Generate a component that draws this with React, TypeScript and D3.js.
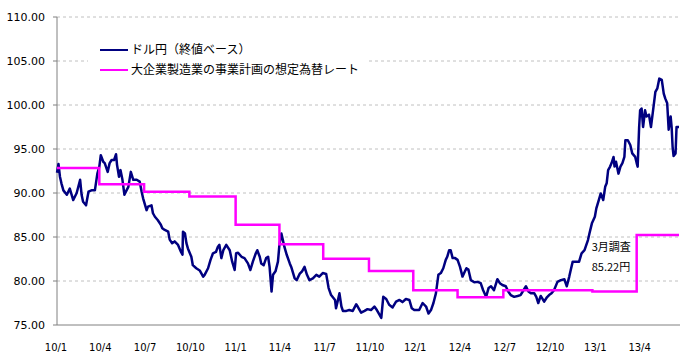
import React from 'react';
import * as d3 from 'd3';

// all x positions are days since 2010-01-01
const START = new Date(2010, 0, 1);
const END_DAY = 1264;

const usdJpyDays = [
  0, 3, 6, 9, 13, 20, 26, 33, 40, 47, 50, 53, 59, 64, 70, 77, 82, 86, 89, 94,
  97, 103, 107, 111, 116, 120, 122, 126, 129, 133, 137, 140, 145, 150, 155, 162, 168, 172, 175, 182,
  185, 192, 195, 199, 205, 211, 214, 219, 226, 229, 234, 239, 246, 252, 255, 256, 260, 263, 266, 273,
  276, 283, 290, 297, 300, 307, 312, 317, 323, 327, 330, 334, 338, 344, 351, 356, 361, 364, 368, 375,
  381, 388, 393, 398, 404, 407, 412, 415, 420, 425, 429, 432, 436, 439, 444, 449, 452, 456, 459, 462,
  467, 473, 476, 483, 487, 493, 498, 503, 508, 513, 520, 527, 533, 540, 547, 552, 557, 565, 567, 571,
  574, 578, 581, 588, 594, 601, 608, 611, 618, 625, 631, 638, 645, 650, 655, 659, 663, 669, 675, 682,
  689, 696, 702, 709, 716, 721, 726, 736, 743, 750, 755, 760, 765, 770, 775, 780, 785, 790, 793, 797,
  800, 804, 809, 814, 819, 824, 829, 832, 836, 841, 848, 855, 861, 866, 872, 877, 882, 888, 895, 900,
  905, 912, 917, 922, 929, 936, 942, 948, 953, 958, 963, 970, 974, 978, 983, 990, 995, 1000, 1005, 1010,
  1017, 1024, 1031, 1036, 1041, 1044, 1048, 1055, 1061, 1066, 1072, 1079, 1082, 1087, 1093, 1096, 1101, 1105, 1110, 1114,
  1117, 1120, 1124, 1127, 1131, 1133, 1136, 1141, 1145, 1149, 1153, 1155, 1160, 1165, 1169, 1175, 1178, 1180, 1183, 1185,
  1188, 1191, 1195, 1198, 1203, 1207, 1211, 1216, 1220, 1224, 1229, 1233, 1236, 1240, 1243, 1247, 1249, 1251, 1253, 1257,
  1259, 1264,
];

const usdJpyClose = [
  92.3, 93.3, 91.85, 91.1, 90.3, 89.8, 90.5, 89.2, 90.0, 91.5, 89.8, 89.0, 88.6, 90.15, 90.3, 90.3, 92.2, 93.0, 94.3, 93.55,
  93.4, 92.4, 93.4, 93.75, 93.75, 94.4, 93.2, 91.85, 92.6, 91.5, 89.8, 90.15, 90.7, 92.4, 91.5, 91.5, 91.3, 90.15, 89.4, 88.05,
  88.45, 88.6, 87.7, 87.3, 86.9, 86.4, 86.0, 85.8, 85.6, 84.7, 84.3, 84.5, 84.1, 83.3, 83.0, 85.6, 85.4, 84.3, 83.7, 82.75,
  81.8, 81.45, 81.2, 80.5, 80.7, 81.45, 82.4, 83.15, 83.3, 83.9, 84.1, 82.6, 83.5, 84.1, 83.5, 82.2, 81.25, 83.15, 83.2, 82.75,
  82.6, 82.0, 81.25, 82.2, 83.15, 83.5, 82.75, 82.0, 81.8, 82.6, 82.75, 81.6, 78.8, 80.7, 81.1, 82.2, 84.1, 85.4, 84.65, 83.9,
  82.95, 82.0, 81.6, 80.3, 80.1, 80.8, 81.1, 81.6, 80.7, 80.1, 80.3, 80.7, 80.5, 80.9, 80.8, 79.2, 78.4, 77.85, 76.9, 77.85,
  78.6, 77.1, 76.6, 76.6, 76.7, 76.6, 77.35, 77.1, 76.4, 76.6, 76.8, 76.7, 77.1, 76.7, 76.2, 75.8, 78.2, 77.95, 77.3, 77.0,
  77.65, 77.85, 77.6, 77.95, 77.85, 76.9, 76.7, 76.7, 77.5, 77.1, 76.3, 76.7, 77.5, 78.6, 80.7, 80.9, 81.45, 82.4, 82.75, 83.5,
  83.5, 82.6, 82.6, 82.4, 81.6, 80.5, 81.1, 81.45, 81.3, 80.1, 79.85, 79.9, 79.75, 78.95, 78.2, 79.2, 79.4, 78.95, 80.2, 79.75,
  79.55, 79.4, 78.8, 78.4, 78.2, 78.3, 78.4, 78.95, 79.4, 78.8, 78.6, 78.6, 78.2, 77.5, 78.3, 77.65, 78.1, 78.4, 78.6, 78.95,
  79.9, 80.1, 80.2, 79.4, 80.5, 81.25, 82.2, 82.2, 82.2, 83.15, 83.5, 84.65, 85.4, 86.55, 87.3, 88.25, 89.2, 89.95, 89.2, 90.7,
  91.1, 92.6, 93.0, 93.4, 94.1, 93.0, 93.55, 92.2, 93.0, 93.4, 94.1, 96.0, 96.0, 95.45, 94.5, 94.1, 93.4, 93.0, 97.5, 99.4,
  99.6, 97.5, 99.4, 98.7, 98.9, 97.5, 99.25, 101.5, 101.9, 103.0, 102.85, 101.3, 100.75, 100.2, 97.2, 98.7, 97.5, 95.25, 94.2, 94.5,
  97.5, 97.5,
];

// Tankan: large manufacturers' assumed exchange rate, by survey
const surveyDays = [0, 86, 177, 269, 363, 452, 541, 634, 724, 814, 907, 998, 1088, 1178];
const surveyRate = [92.84, 91.0, 90.15, 89.6, 86.4, 84.17, 82.53, 81.14, 78.94, 78.15, 78.95, 78.95, 78.8, 85.22];

const yTicks = [75, 80, 85, 90, 95, 100, 105, 110];
const quarterLabels = ['10/1', '10/4', '10/7', '10/10', '11/1', '11/4', '11/7', '11/10', '12/1', '12/4', '12/7', '12/10', '13/1', '13/4'];

const legendNames = ['ドル円（終値ベース）', '大企業製造業の事業計画の想定為替レート'];
const noteLines = ['3月調査', '85.22円'];

const W = 690;
const H = 363;
const left = 57;
const right = 679;
const top = 17;
const bottom = 325;

const NAVY = '#000080';
const MAGENTA = '#ff00ff';
const jp = '"Noto Sans CJK JP", "Noto Sans", sans-serif';
const num = '"DejaVu Sans", Verdana, sans-serif';

const day = (d: number) => d3.timeDay.offset(START, d);

export default function App() {
  const x = d3.scaleTime().domain([START, day(END_DAY)]).range([left, right]);
  const y = d3.scaleLinear().domain([75, 110]).range([bottom, top]);

  const usd = usdJpyDays.map((d, i) => [day(d), usdJpyClose[i]] as [Date, number]);
  const survey = surveyDays.map((d, i) => [day(d), surveyRate[i]] as [Date, number]);
  survey.push([day(END_DAY), surveyRate[surveyRate.length - 1]]);

  const line = d3.line<[Date, number]>().x(d => x(d[0])).y(d => y(d[1]));
  const stepLine = d3.line<[Date, number]>().x(d => x(d[0])).y(d => y(d[1])).curve(d3.curveStepAfter);

  const quarters = d3.timeMonth.every(3)!.range(START, new Date(2013, 4, 1));

  const lastSurveyX = x(day(surveyDays[surveyDays.length - 1]));
  const lastSurveyY = y(surveyRate[surveyRate.length - 1]);

  return (
    <svg width={W} height={H} style={{ position: 'absolute', left: 0, top: 0, background: '#fff' }}>
      {/* grid */}
      {yTicks.filter(t => t > 75).map(t => (
        <line key={t} x1={left} x2={right} y1={y(t)} y2={y(t)} stroke="#c0c0c0" strokeDasharray="3,3" />
      ))}

      {/* legend box hides the grid behind it */}
      <rect x={88} y={38} width={280} height={44} fill="#fff" />
      {legendNames.map((name, i) => (
        <g key={name} transform={`translate(100,${50 + i * 20})`}>
          <line x1={0} x2={28} y1={0} y2={0} stroke={i === 0 ? NAVY : MAGENTA} strokeWidth={2} />
          <text x={31} y={0} dy="0.36em" fontSize={12} fontFamily={jp} fill="#000">{name}</text>
        </g>
      ))}

      {/* axes */}
      <line x1={left} x2={left} y1={top} y2={bottom} stroke="#808080" />
      <line x1={left} x2={right + 1} y1={bottom} y2={bottom} stroke="#808080" />
      {yTicks.map(t => (
        <g key={t}>
          <line x1={left - 4} x2={left} y1={y(t)} y2={y(t)} stroke="#808080" />
          <text x={45} y={y(t)} dy="0.36em" textAnchor="end" fontSize={11} fontFamily={num} fill="#000">
            {t.toFixed(2)}
          </text>
        </g>
      ))}
      {quarters.map((q, i) => (
        <text key={i} x={x(q) - 1} y={351} textAnchor="middle" fontSize={10} fontFamily={num} fill="#000">
          {quarterLabels[i]}
        </text>
      ))}

      {/* series */}
      <path d={line(usd) || ''} fill="none" stroke={NAVY} strokeWidth={2.5} strokeLinejoin="round" />
      <path d={stepLine(survey) || ''} fill="none" stroke={MAGENTA} strokeWidth={2.5} />

      {/* note */}
      {noteLines.map((s, i) => (
        <text key={s} x={lastSurveyX - 45} y={lastSurveyY + 12 + i * 20} dy="0.36em" fontSize={11} fontFamily={jp} fill="#000">
          {s}
        </text>
      ))}
    </svg>
  );
}
